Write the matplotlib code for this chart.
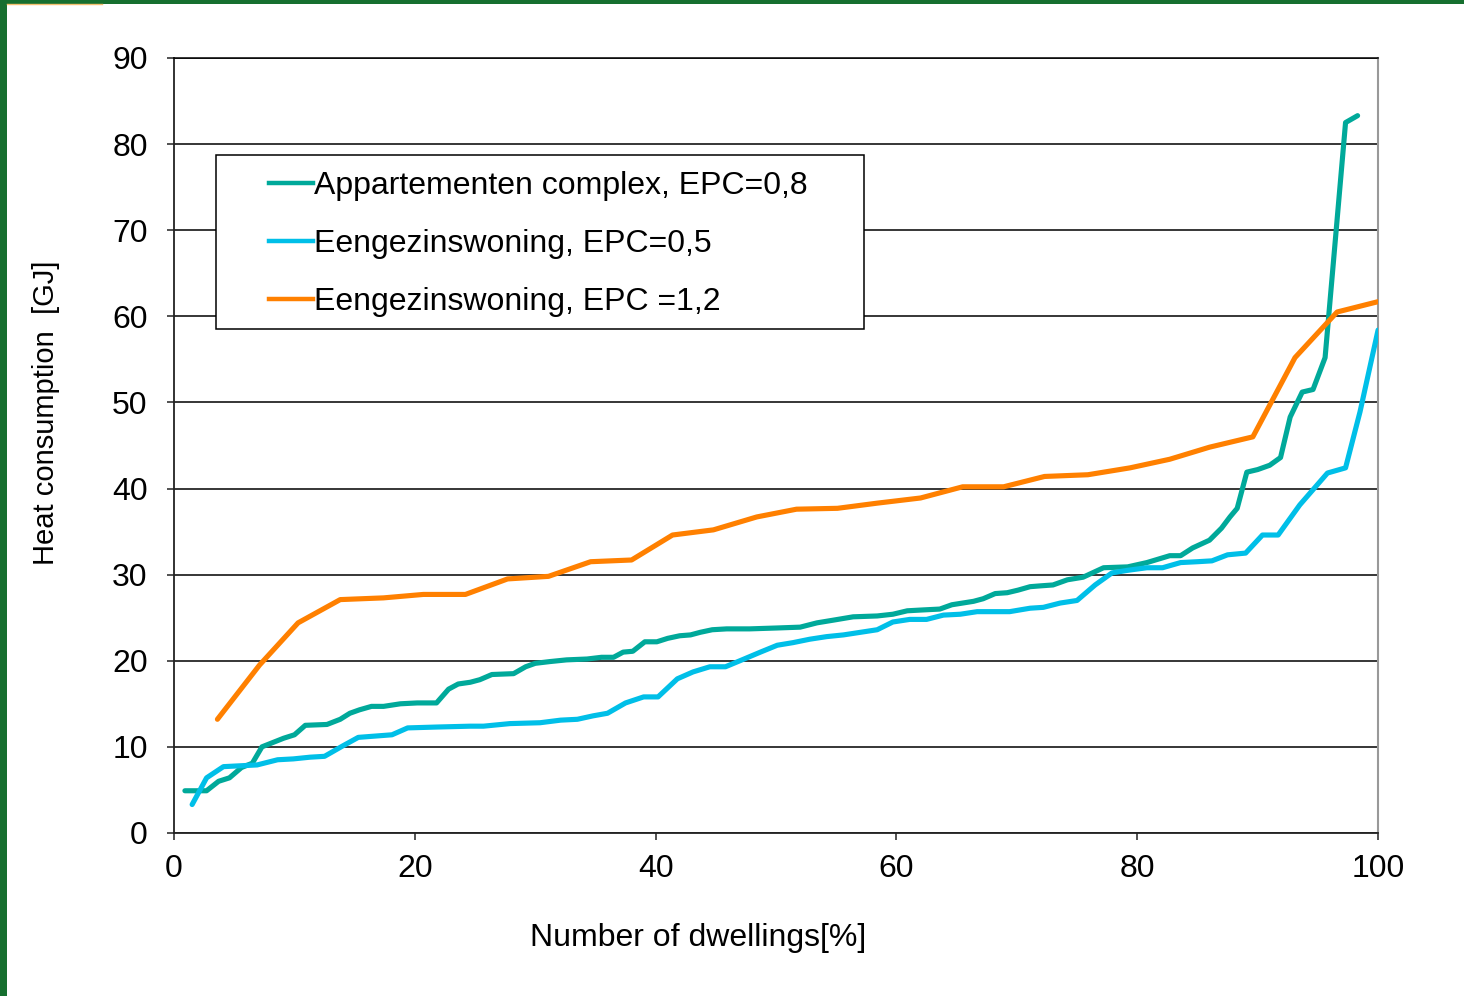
"""
Heat consumption vs. share of dwellings
=======================================

Cumulative distribution of heat consumption for three dwelling types.
"""

import matplotlib
matplotlib.use('Agg')
import matplotlib.pyplot as plt
from matplotlib.patches import Rectangle
from matplotlib.lines import Line2D

plt.rcParams['font.family'] = ['Liberation Sans', 'DejaVu Sans']

# Appartementen complex, EPC=0,8
app_x = [0.9, 2.7, 3.7, 4.6, 5.6, 6.5, 7.3, 8.2, 9.1, 10.0, 10.9, 12.7, 13.8, 14.6,
         15.4, 16.4, 17.4, 18.8, 20.2, 21.8, 22.8, 23.6, 24.6, 25.4, 26.4, 28.2,
         29.2, 30.0, 31.2, 32.6, 34.3, 35.5, 36.5, 37.3, 38.1, 39.1, 40.1, 41.0,
         42.0, 42.9, 43.7, 44.7, 45.9, 47.8, 50.0, 52.0, 53.4, 54.7, 56.4, 58.4,
         59.7, 60.9, 62.2, 63.6, 64.6, 65.5, 66.4, 67.2, 68.2, 69.2, 70.1, 71.1,
         72.0, 73.0, 74.2, 75.5, 77.2, 79.2, 80.8, 82.7, 83.6, 84.6, 86.0, 87.0,
         87.7, 88.3, 89.1, 90.0, 91.0, 91.9, 92.7, 93.7, 94.6, 95.6, 97.3, 98.3]
app_y = [4.9, 4.9, 6.0, 6.4, 7.6, 8.1, 10.0, 10.5, 11.0, 11.4, 12.5, 12.6, 13.2, 13.9,
         14.3, 14.7, 14.7, 15.0, 15.1, 15.1, 16.7, 17.3, 17.5, 17.8, 18.4, 18.5,
         19.3, 19.7, 19.9, 20.1, 20.2, 20.4, 20.4, 21.0, 21.1, 22.2, 22.2, 22.6,
         22.9, 23.0, 23.3, 23.6, 23.7, 23.7, 23.8, 23.9, 24.4, 24.7, 25.1, 25.2,
         25.4, 25.8, 25.9, 26.0, 26.5, 26.7, 26.9, 27.2, 27.8, 27.9, 28.2, 28.6,
         28.7, 28.8, 29.4, 29.7, 30.8, 30.9, 31.4, 32.2, 32.2, 33.1, 34.0, 35.4,
         36.7, 37.7, 41.9, 42.2, 42.7, 43.6, 48.3, 51.2, 51.5, 55.2, 82.5, 83.3]

# Eengezinswoning, EPC=0,5
eg05_x = [1.5, 2.7, 4.1, 5.5, 6.9, 8.6, 9.9, 11.3, 12.5, 14.0, 15.3, 18.1, 19.4,
          21.8, 24.6, 25.7, 27.9, 30.4, 32.1, 33.5, 34.8, 36.0, 37.5, 39.0, 40.2,
          41.8, 43.1, 44.5, 45.8, 47.0, 48.7, 50.1, 51.4, 52.8, 54.2, 55.6, 57.0,
          58.4, 59.7, 61.1, 62.5, 63.9, 65.3, 66.7, 68.0, 69.4, 71.1, 72.2, 73.6,
          75.0, 76.5, 77.9, 79.2, 80.8, 82.1, 83.6, 85.0, 86.2, 87.5, 89.0, 90.4,
          91.7, 93.5, 95.8, 97.3, 98.5, 100.0]
eg05_y = [3.3, 6.4, 7.7, 7.8, 7.9, 8.5, 8.6, 8.8, 8.9, 10.1, 11.1, 11.4, 12.2,
          12.3, 12.4, 12.4, 12.7, 12.8, 13.1, 13.2, 13.6, 13.9, 15.1, 15.8, 15.8,
          17.9, 18.7, 19.3, 19.3, 20.0, 21.0, 21.8, 22.1, 22.5, 22.8, 23.0, 23.3,
          23.6, 24.5, 24.8, 24.8, 25.3, 25.4, 25.7, 25.7, 25.7, 26.1, 26.2, 26.7,
          27.0, 28.8, 30.2, 30.5, 30.8, 30.8, 31.4, 31.5, 31.6, 32.3, 32.5, 34.6,
          34.6, 38.1, 41.8, 42.4, 48.9, 58.4]

# Eengezinswoning, EPC =1,2
eg12_x = [3.6, 7.1, 10.3, 13.8, 17.4, 20.7, 24.2, 27.7, 31.1, 34.6, 38.0, 41.4,
          44.8, 48.4, 51.7, 55.1, 58.4, 62.0, 65.5, 68.9, 72.3, 75.9, 79.4, 82.7,
          86.0, 89.6, 93.1, 96.6, 100.0]
eg12_y = [13.2, 19.5, 24.4, 27.1, 27.3, 27.7, 27.7, 29.5, 29.8, 31.5, 31.7, 34.6,
          35.2, 36.7, 37.6, 37.7, 38.3, 38.9, 40.2, 40.2, 41.4, 41.6, 42.4, 43.4,
          44.8, 46.0, 55.2, 60.5, 61.7]

labels = ['Appartementen complex, EPC=0,8',
          'Eengezinswoning, EPC=0,5',
          'Eengezinswoning, EPC =1,2']
colors = ['#00A99A', '#00BFE8', '#FF8000']

fig = plt.figure(figsize=(14.64, 9.96), dpi=100)
ax = fig.add_axes([0.1189, 0.1637, 0.8224, 0.7781])

lw = 3.7
ax.plot(app_x, app_y, color=colors[0], linewidth=lw, solid_capstyle='round', zorder=3)
ax.plot(eg05_x, eg05_y, color=colors[1], linewidth=lw, solid_capstyle='round', zorder=3)
ax.plot(eg12_x, eg12_y, color=colors[2], linewidth=lw, solid_capstyle='round', zorder=3)

ax.set_xlim(0, 100)
ax.set_ylim(0, 90)
ax.set_xticks(range(0, 101, 20))
ax.set_yticks(range(0, 91, 10))
ax.tick_params(axis='both', labelsize=23, direction='out', length=5, width=1.2, color='#333333')
ax.tick_params(axis='x', pad=10)
ax.tick_params(axis='y', pad=14)
ax.grid(True, axis='y', color='black', linewidth=1.1)
ax.set_axisbelow(True)
for side in ['left', 'bottom']:
    ax.spines[side].set_color('#222222')
    ax.spines[side].set_linewidth(1.3)
ax.spines['top'].set_color('black')
ax.spines['top'].set_linewidth(1.1)
ax.spines['right'].set_color('#999999')
ax.spines['right'].set_linewidth(1.5)

# legend box (drawn by hand to match the wide padding)
ax.add_patch(Rectangle((0.0349, 0.650), 0.538, 0.225, transform=ax.transAxes,
                       facecolor='white', edgecolor='black', linewidth=1.1, zorder=4))
handles = [Line2D([], [], color=c, linewidth=3.2) for c in colors]
leg = ax.legend(handles, labels, loc='upper left', bbox_to_anchor=(0.0705, 0.866),
                frameon=False, fontsize=23, handlelength=1.4, handletextpad=0.02,
                labelspacing=0.87, borderpad=0.3, borderaxespad=0)
leg.set_zorder(5)

fig.text(698 / 1464, 1 - 938 / 996, 'Number of dwellings[%]', ha='center', va='center', fontsize=23)
fig.text(46 / 1464, 1 - 413 / 996, 'Heat consumption  [GJ]', ha='center', va='center',
         rotation=90, fontsize=21)

# green slide border
fig.patches.append(Rectangle((0, 0), 7 / 1464, 1, transform=fig.transFigure,
                             facecolor='#166F2F', edgecolor='none'))
fig.patches.append(Rectangle((0, 1 - 4 / 996), 1, 4 / 996, transform=fig.transFigure,
                             facecolor='#166F2F', edgecolor='none'))
fig.lines.append(Line2D([7 / 1464, 102 / 1464], [1 - 4.5 / 996, 1 - 4.5 / 996],
                        transform=fig.transFigure, color='#F5C070', linewidth=1))

fig.savefig('out.png', dpi=100)
plt.close(fig)
